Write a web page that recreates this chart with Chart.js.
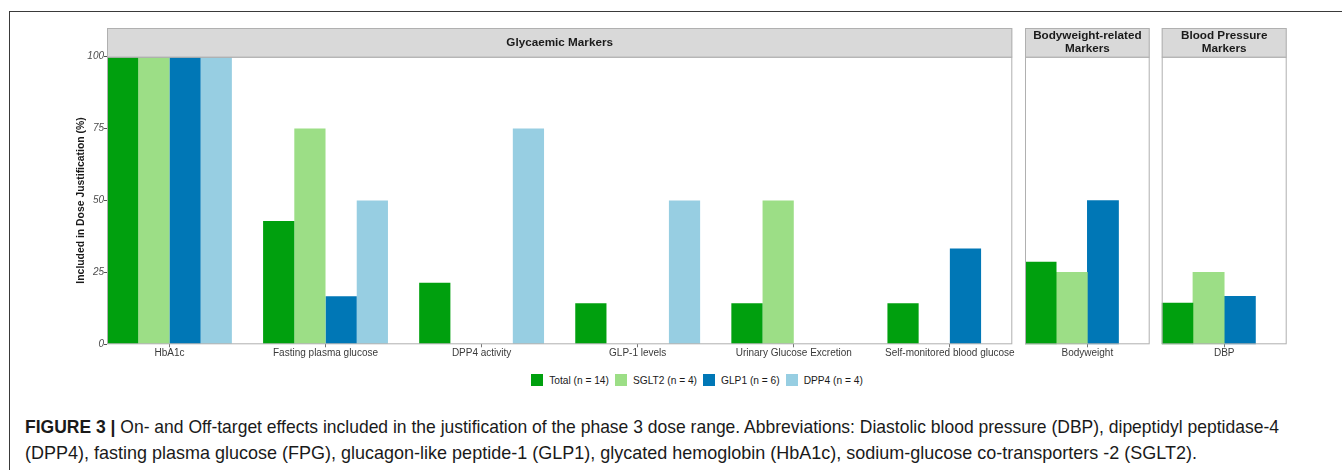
<!DOCTYPE html>
<html>
<head>
<meta charset="utf-8">
<script src="https://cdn.jsdelivr.net/npm/chart.js@4.4.1/dist/chart.umd.min.js"></script>
<style>
  html, body { margin: 0; padding: 0; background: #fff; }
  #fig { position: relative; width: 1342px; height: 470px; overflow: hidden;
         font-family: "Liberation Sans", Arial, sans-serif; }
  #frame { position: absolute; left: 9px; top: 11px; width: 1400px; height: 500px;
           border-top: 1px solid #3a3a3a; border-left: 1px solid #3a3a3a; }
  canvas { position: absolute; }
  #legend { position: absolute; top: 373px; left: 107px; width: 1180px; height: 14px;
            display: flex; justify-content: center; align-items: center;
            font-size: 10.2px; color: #1a1a1a; }
  .item { display: flex; align-items: center; margin-right: 6px; white-space: nowrap; }
  .item:last-child { margin-right: 0; }
  .sw { width: 12px; height: 12px; margin-right: 6px; }
  .cap { position: absolute; left: 25px; white-space: nowrap; font-size: 18.5px; line-height: 20px;
         transform-origin: 0 0; color: #1a1a1a;
         font-family: "Liberation Sans Narrow", "Liberation Sans", Arial, sans-serif; }
</style>
</head>
<body>
<div id="fig">
  <div id="frame"></div>
  <canvas id="glycaemic" width="960" height="350" style="left:60px;top:20px"></canvas>
  <canvas id="bodyweight" width="135" height="350" style="left:1020px;top:20px"></canvas>
  <canvas id="bloodPressure" width="136" height="350" style="left:1156px;top:20px"></canvas>
  <div id="legend"></div>
  <div class="cap" id="cap1" style="top:417px"><b>FIGURE 3 | </b>On- and Off-target effects included in the justification of the phase 3 dose range. Abbreviations: Diastolic blood pressure (DBP), dipeptidyl peptidase-4</div>
  <div class="cap" id="cap2" style="top:443px">(DPP4), fasting plasma glucose (FPG), glucagon-like peptide-1 (GLP1), glycated hemoglobin (HbA1c), sodium-glucose co-transporters -2 (SGLT2).</div>
</div>
<script>
// Marker categories per facet
const glycaemicCategories = ["HbA1c", "Fasting plasma glucose", "DPP4 activity", "GLP-1 levels",
                             "Urinary Glucose Excretion", "Self-monitored blood glucose"];
const bodyweightCategories = ["Bodyweight"];
const bloodPressureCategories = ["DBP"];

// Series (drug classes)
const seriesNames = ["Total (n = 14)", "SGLT2 (n = 4)", "GLP1 (n = 6)", "DPP4 (n = 4)"];

// Share of trials (%) that used each marker in dose justification
const totalGlycaemic = [100, 42.9, 21.4, 14.3, 14.3, 14.3];
const sglt2Glycaemic = [100, 75, null, null, 50, null];
const glp1Glycaemic  = [100, 16.7, null, null, null, 33.3];
const dpp4Glycaemic  = [100, 50, 75, 50, null, null];

const totalBodyweight = [28.6];
const sglt2Bodyweight = [25];
const glp1Bodyweight  = [50];
const dpp4Bodyweight  = [null];

const totalBloodPressure = [14.3];
const sglt2BloodPressure = [25];
const glp1BloodPressure  = [16.7];
const dpp4BloodPressure  = [null];

const yTicks = [0, 25, 50, 75, 100];
const yTitle = "Included in Dose Justification (%)";
const stripTitles = {
  glycaemic: ["Glycaemic Markers"],
  bodyweight: ["Bodyweight-related", "Markers"],
  bloodPressure: ["Blood Pressure", "Markers"]
};

// Styling
const seriesColors = ["#00a00e", "#9cde86", "#0077b6", "#97cee2"];
const FONT = '"Liberation Sans", Arial, sans-serif';
const PANEL_BORDER = "#b0b0b0";
const STRIP_FILL = "#d9d9d9";
const STRIP_HEIGHT = 28.7;

// Facet strip + panel border drawn around the chart area
function stripPlugin(lines) {
  return {
    id: "panelStrip",
    afterDraw(chart) {
      const { ctx, chartArea: a } = chart;
      ctx.save();
      ctx.fillStyle = STRIP_FILL;
      ctx.fillRect(a.left, a.top - STRIP_HEIGHT, a.right - a.left, STRIP_HEIGHT);
      ctx.strokeStyle = PANEL_BORDER;
      ctx.lineWidth = 1;
      ctx.strokeRect(a.left + 0.5, a.top - STRIP_HEIGHT + 0.5, a.right - a.left - 1, STRIP_HEIGHT);
      ctx.strokeRect(a.left + 0.5, a.top + 0.5, a.right - a.left - 1, a.bottom - a.top - 1);
      ctx.fillStyle = "#1a1a1a";
      ctx.font = "bold 11.7px " + FONT;
      ctx.textAlign = "center";
      ctx.textBaseline = "middle";
      const cx = (a.left + a.right) / 2;
      const cy = a.top - STRIP_HEIGHT / 2;
      const lh = 13;
      lines.forEach((t, i) => {
        ctx.fillText(t, cx, cy + (i - (lines.length - 1) / 2) * lh);
      });
      ctx.restore();
    }
  };
}

function makePanel(canvasId, categories, seriesValues, lines, cfg) {
  const datasets = seriesNames.map((name, s) => ({
    label: name,
    data: categories.map((c, i) => ({ x: i + 1, y: seriesValues[s][i] })),
    backgroundColor: seriesColors[s],
    borderWidth: 0,
    categoryPercentage: cfg.categoryPercentage,
    barPercentage: 1.0
  }));
  return new Chart(document.getElementById(canvasId), {
    type: "bar",
    data: { datasets },
    plugins: [stripPlugin(lines)],
    options: {
      responsive: false,
      animation: false,
      devicePixelRatio: 1,
      layout: { padding: cfg.padding },
      plugins: { legend: { display: false }, tooltip: { enabled: false } },
      scales: {
        x: {
          type: "linear",
          min: 0.6,
          max: categories.length + 0.4,
          offset: false,
          afterBuildTicks: (scale) => { scale.ticks = categories.map((c, i) => ({ value: i + 1 })); },
          afterFit: (scale) => { scale.height = 20; },
          border: { display: false },
          grid: { offset: false, drawOnChartArea: false, drawTicks: true, tickLength: 3, color: "#777" },
          ticks: {
            autoSkip: false, maxRotation: 0, minRotation: 0, padding: 0,
            color: "#3a3a3a", font: { family: FONT, size: 10 },
            callback: (v) => categories[Math.round(v) - 1]
          }
        },
        y: {
          display: cfg.showY,
          min: 0,
          max: 100,
          afterBuildTicks: (scale) => { scale.ticks = yTicks.map(v => ({ value: v })); },
          afterFit: (scale) => { scale.width = cfg.yWidth; },
          border: { display: false },
          grid: { drawOnChartArea: false, drawTicks: true, tickLength: 3, color: "#555" },
          ticks: {
            padding: 0, color: "#4d4d4d",
            font: { family: FONT, size: 10, style: "italic" }
          },
          title: {
            display: cfg.showY,
            text: yTitle,
            color: "#1a1a1a",
            font: { family: FONT, size: 10.4, weight: "bold" },
            padding: { top: 14.8, bottom: 0 }
          }
        }
      }
    }
  });
}

makePanel("glycaemic", glycaemicCategories,
  [totalGlycaemic, sglt2Glycaemic, glp1Glycaemic, dpp4Glycaemic],
  stripTitles.glycaemic,
  { categoryPercentage: 0.8, showY: true, yWidth: 47,
    padding: { top: 36.7, right: 7.7, bottom: 5.7, left: 0 } });

makePanel("bodyweight", bodyweightCategories,
  [totalBodyweight, sglt2Bodyweight, glp1Bodyweight, dpp4Bodyweight],
  stripTitles.bodyweight,
  { categoryPercentage: 1.0, showY: false, yWidth: 0,
    padding: { top: 36.7, right: 5.3, bottom: 5.7, left: 5 } });

makePanel("bloodPressure", bloodPressureCategories,
  [totalBloodPressure, sglt2BloodPressure, glp1BloodPressure, dpp4BloodPressure],
  stripTitles.bloodPressure,
  { categoryPercentage: 1.0, showY: false, yWidth: 0,
    padding: { top: 36.7, right: 5.3, bottom: 5.7, left: 5.7 } });

// Shared legend
const legend = document.getElementById("legend");
seriesNames.forEach((name, s) => {
  const item = document.createElement("div");
  item.className = "item";
  const sw = document.createElement("div");
  sw.className = "sw";
  sw.style.background = seriesColors[s];
  const label = document.createElement("span");
  label.textContent = name;
  item.appendChild(sw);
  item.appendChild(label);
  legend.appendChild(item);
});

// Caption lines set to their printed widths
function fitLine(id, targetWidth) {
  const el = document.getElementById(id);
  el.style.display = "inline-block";
  const w = el.getBoundingClientRect().width;
  el.style.transform = "scaleX(" + (targetWidth / w) + ")";
}
fitLine("cap1", 1254);
fitLine("cap2", 1172);
</script>
</body>
</html>
